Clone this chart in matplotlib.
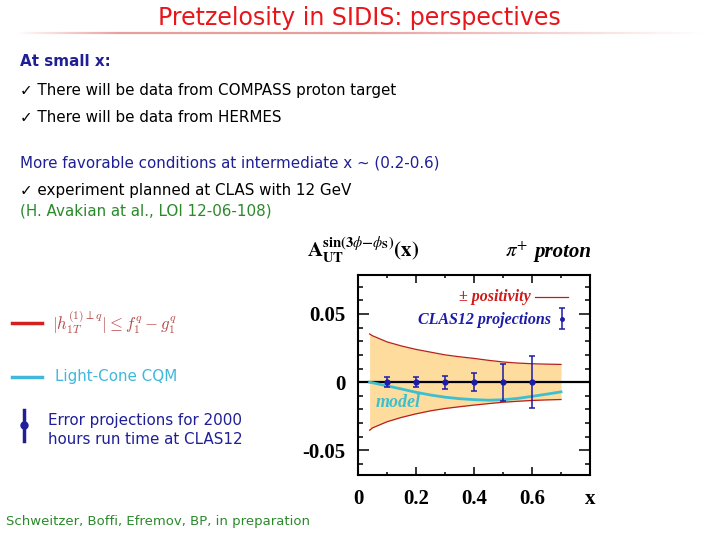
import matplotlib
matplotlib.use('Agg')
import matplotlib.pyplot as plt
import numpy as np
from matplotlib.lines import Line2D
from matplotlib.collections import LineCollection
from matplotlib.ticker import MultipleLocator, FixedLocator, FixedFormatter

# ---------------- data ----------------
proj_x = [0.1, 0.2, 0.3, 0.4, 0.5, 0.6]
proj_y = [0.0, 0.0, 0.0, 0.0, 0.0, 0.0]
proj_err = [0.0035, 0.0036, 0.0047, 0.0064, 0.0136, 0.019]

band_x = [0.04, 0.05, 0.1, 0.15, 0.2, 0.25, 0.3, 0.35, 0.4, 0.45, 0.5, 0.55, 0.6, 0.65, 0.7]
band_upper = [0.0353, 0.034, 0.0295, 0.0265, 0.024, 0.022, 0.020, 0.0186, 0.0174, 0.016,
              0.0148, 0.014, 0.0135, 0.0132, 0.013]
band_lower = [-0.0352, -0.0335, -0.029, -0.0258, -0.0232, -0.021, -0.0193, -0.018, -0.0168,
              -0.0157, -0.0147, -0.014, -0.0134, -0.013, -0.0127]

model_x = [0.04, 0.05, 0.1, 0.15, 0.2, 0.25, 0.3, 0.35, 0.4, 0.45, 0.5, 0.55, 0.6, 0.65, 0.7]
model_y = [0.0, -0.0004, -0.0027, -0.005, -0.0074, -0.0094, -0.011, -0.0121, -0.0128,
           -0.0132, -0.0129, -0.0119, -0.0104, -0.0088, -0.0071]

x_ticks = [0, 0.2, 0.4, 0.6, 0.8]
x_ticklabels = ['0', '0.2', '0.4', '0.6', 'x']
y_ticks = [-0.05, 0, 0.05]
y_ticklabels = ['-0.05', '0', '0.05']

# ---------------- colours ----------------
RED = '#e8151b'
NAVY = '#1f1f96'
BLACK = '#000000'
GREEN = '#2a8a2a'
CYAN = '#40b8dc'
BAND = '#fddc9e'
EDGE = '#b8201c'
MODEL = '#3cc0d0'
PTS = '#1c1ca8'

W, H = 720, 540
fig = plt.figure(figsize=(7.2, 5.4), dpi=100)
fig.patch.set_facecolor('white')


def fx(px):
    return px / W


def fy(py):
    return 1 - py / H


BODY = ['DejaVu Sans']

# title
fig.text(fx(359), fy(18), 'Pretzelosity in SIDIS: perspectives', color=RED,
         fontsize=17, family=BODY, ha='center', va='center')
# title underline gradient
xs = np.linspace(15, 705, 200)
segs = [[(fx(xs[i]), fy(33)), (fx(xs[i + 1]), fy(33))] for i in range(len(xs) - 1)]
t = np.linspace(0, 1, len(segs))
alph = np.clip(np.minimum(t / 0.15, (1 - t) / 0.5), 0, 1) * 0.55
cols = [(0.85, 0.3, 0.3, a) for a in alph]
lc = LineCollection(segs, colors=cols, linewidths=1.6, transform=fig.transFigure)
fig.add_artist(lc)

fs_body = 10.9
fig.text(fx(20), fy(61), 'At small x:', color=NAVY, fontsize=fs_body, family=BODY,
         va='center', fontweight='bold')
fig.text(fx(20), fy(90), '\u2713 There will be data from COMPASS proton target', color=BLACK,
         fontsize=fs_body, family=BODY, va='center')
fig.text(fx(20), fy(118), '\u2713 There will be data from HERMES', color=BLACK,
         fontsize=fs_body, family=BODY, va='center')
fig.text(fx(20), fy(163), 'More favorable conditions at intermediate x ~ (0.2-0.6)', color=NAVY,
         fontsize=fs_body, family=BODY, va='center')
fig.text(fx(20), fy(191), '\u2713 experiment planned at CLAS with 12 GeV', color=BLACK,
         fontsize=fs_body, family=BODY, va='center')
fig.text(fx(20), fy(211), '(H. Avakian at al., LOI 12-06-108)', color=GREEN,
         fontsize=fs_body, family=BODY, va='center')

# left legend
fig.add_artist(Line2D([fx(12), fx(42)], [fy(323), fy(323)], color='#d42020', lw=2.5,
                      transform=fig.transFigure))
fig.text(fx(52), fy(322), r'$|h_{1T}^{(1)\perp q}| \leq f_1^q - g_1^q$', color='#b84848',
         fontsize=12, va='center', math_fontfamily='cm')
fig.add_artist(Line2D([fx(12), fx(42)], [fy(377), fy(377)], color=CYAN, lw=2.5,
                      transform=fig.transFigure))
fig.text(fx(55), fy(377), 'Light-Cone CQM', color=CYAN, fontsize=fs_body, family=BODY,
         va='center')
fig.add_artist(Line2D([fx(24), fx(24)], [fy(410), fy(441)], color=NAVY, lw=2.5,
                      transform=fig.transFigure))
fig.add_artist(Line2D([fx(24)], [fy(425)], color=NAVY, marker='o', ms=5,
                      transform=fig.transFigure))
fig.text(fx(48), fy(421), 'Error projections for 2000', color=NAVY, fontsize=fs_body,
         family=BODY, va='center')
fig.text(fx(48), fy(440), 'hours run time at CLAS12', color=NAVY, fontsize=fs_body,
         family=BODY, va='center')
fig.text(fx(6), fy(521), 'Schweitzer, Boffi, Efremov, BP, in preparation', color=GREEN,
         fontsize=9.5, family=BODY, va='center')

# ---------------- the plot ----------------
ax = fig.add_axes([fx(358), fy(475), fx(590) - fx(358), fy(275) - fy(475)])
ax.set_xlim(0, 0.8)
ax.set_ylim(-0.068, 0.0785)

ax.fill_between(band_x, band_lower, band_upper, color=BAND, lw=0, zorder=1)
ax.plot(band_x, band_upper, color=EDGE, lw=0.9, zorder=2)
ax.plot(band_x, band_lower, color=EDGE, lw=0.9, zorder=2)
ax.axhline(0, color='black', lw=1.6, zorder=3)
ax.plot(model_x, model_y, color=MODEL, lw=2.0, zorder=4)
ax.errorbar(proj_x, proj_y, yerr=proj_err, fmt='o', ms=3.5, color=PTS, ecolor=PTS,
            elinewidth=1.1, capsize=2.2, capthick=1.1, zorder=5)

SERIF = 'Liberation Serif'
ax.text(0.06, -0.0148, 'model', color=MODEL, fontsize=13, family=SERIF, style='italic',
        fontweight='bold', va='center', ha='left', zorder=6)
# top-right legend
ax.text(0.595, 0.0622, '\u00b1 positivity', color='#d01818', fontsize=11.5, family=SERIF,
        style='italic', fontweight='bold', va='center', ha='right')
ax.plot([0.61, 0.725], [0.0622, 0.0622], color=EDGE, lw=0.9, clip_on=False)
ax.text(0.665, 0.0459, 'CLAS12 projections', color=PTS, fontsize=11.5, family=SERIF,
        style='italic', fontweight='bold', va='center', ha='right')
ax.errorbar([0.703], [0.0465], yerr=[0.0075], fmt='o', ms=2.5, color=PTS, ecolor=PTS,
            elinewidth=1.1, capsize=2.0, capthick=1.1, clip_on=False)

ax.xaxis.set_major_locator(FixedLocator(x_ticks))
ax.xaxis.set_major_formatter(FixedFormatter(x_ticklabels))
ax.xaxis.set_minor_locator(MultipleLocator(0.1))
ax.yaxis.set_major_locator(FixedLocator(y_ticks))
ax.yaxis.set_major_formatter(FixedFormatter(y_ticklabels))
ax.yaxis.set_minor_locator(MultipleLocator(0.01))
ax.tick_params(which='both', direction='in', top=True, right=True, width=1.1)
ax.tick_params(axis='y', which='major', length=8, pad=9)
ax.tick_params(axis='y', which='minor', length=3.8)
ax.tick_params(axis='x', which='major', length=6, pad=10)
ax.tick_params(axis='x', which='minor', length=2.5)
for lab in ax.get_xticklabels() + ax.get_yticklabels():
    lab.set_family(SERIF)
    lab.set_fontweight('bold')
    lab.set_fontsize(15)
for s in ax.spines.values():
    s.set_linewidth(1.5)

# axis headings
fig.text(fx(307), fy(257), r'$\mathbf{A}_{\mathbf{UT}}^{\mathbf{sin(3}\phi\mathbf{-}\phi_{\mathbf{S}}\mathbf{)}}\mathbf{(x)}$',
         fontsize=15, va='baseline', ha='left', math_fontfamily='stix')
fig.text(fx(505), fy(257), r'$\pi^{+}$', fontsize=15, va='baseline', ha='left',
         math_fontfamily='stix')
fig.text(fx(591), fy(257), 'proton', fontsize=15, family=SERIF, style='italic',
         fontweight='bold', va='baseline', ha='right')

fig.savefig('out.png', dpi=100)
